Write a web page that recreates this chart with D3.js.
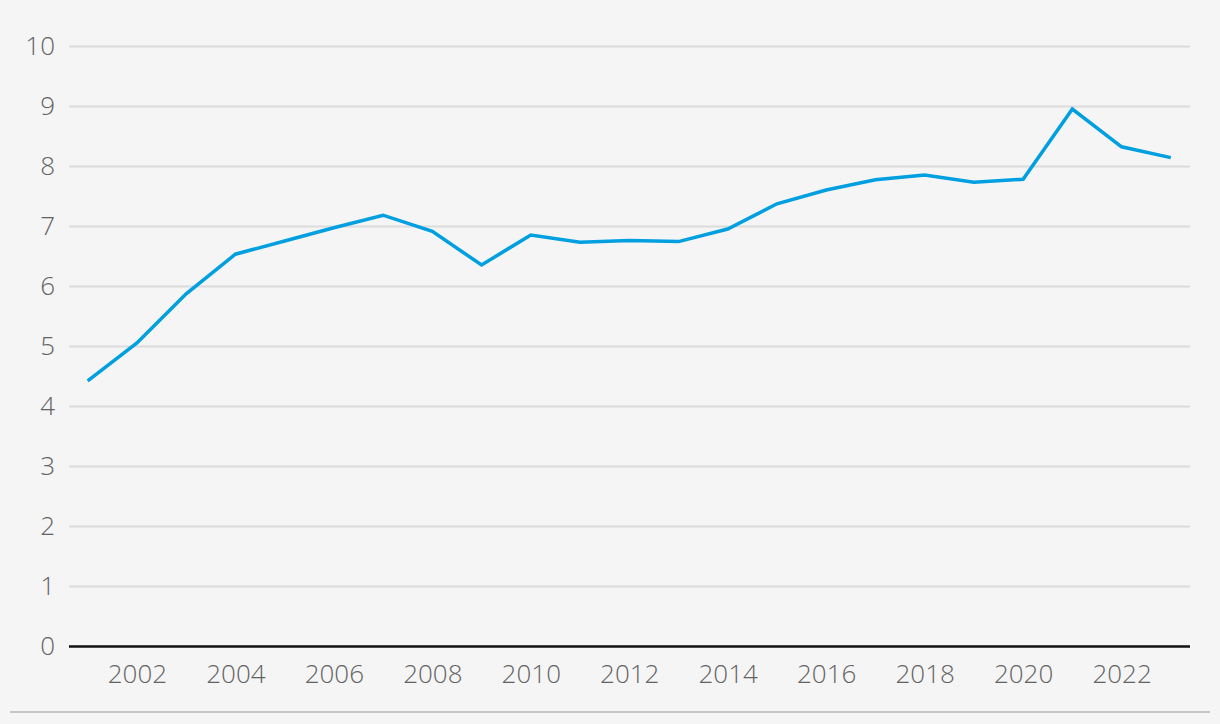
<!DOCTYPE html>
<html>
<head>
<meta charset="utf-8">
<script src="https://cdn.jsdelivr.net/npm/d3@7"></script>
<style>
  html, body { margin: 0; padding: 0; background: #f5f5f5; }
  svg { display: block; }
  .tick text { font-family: "Open Sans", sans-serif; font-weight: 300; fill: #636363; }
</style>
</head>
<body>
<div id="chart"></div>
<script>
// values
const years = d3.range(2001, 2024);
const values = [4.42, 5.05, 5.87, 6.53, 6.75, 6.97, 7.18, 6.91, 6.35, 6.85, 6.73, 6.76, 6.74, 6.95, 7.37, 7.6, 7.77, 7.85, 7.73, 7.78, 8.95, 8.32, 8.14];
const yTicks = [0, 1, 2, 3, 4, 5, 6, 7, 8, 9, 10];
const xTicks = [2002, 2004, 2006, 2008, 2010, 2012, 2014, 2016, 2018, 2020, 2022];

const data = years.map((y, i) => ({ year: y, value: values[i] }));

const width = 1220, height = 724;
const margin = { top: 46, right: 30, bottom: 78, left: 69 };

const svg = d3.select("#chart")
  .append("svg")
  .attr("width", width)
  .attr("height", height);

// scales
const xScale = d3.scaleLinear()
  .domain([2000.62, 2023.39])
  .range([margin.left, width - margin.right]);

const yScale = d3.scaleLinear()
  .domain([0, 10])
  .range([height - margin.bottom, margin.top]);

// gridlines + y labels
const yAxis = svg.append("g")
  .attr("transform", `translate(${margin.left},0)`)
  .call(d3.axisLeft(yScale)
    .tickValues(yTicks)
    .tickSize(-(width - margin.left - margin.right))
    .tickPadding(14)
    .tickFormat(d3.format("d")));
yAxis.select(".domain").remove();
yAxis.selectAll(".tick line")
  .attr("stroke", "#dcdcdc")
  .attr("stroke-width", 2);
yAxis.selectAll(".tick text")
  .attr("font-size", "26px");
// zero line is black
yAxis.selectAll(".tick")
  .filter(d => d === 0)
  .select("line")
  .attr("stroke", "#111")
  .attr("stroke-width", 2.5);

// x labels
const xAxis = svg.append("g")
  .attr("transform", `translate(0,${height - margin.bottom})`)
  .call(d3.axisBottom(xScale)
    .tickValues(xTicks)
    .tickSize(0)
    .tickPadding(19)
    .tickFormat(d3.format("d")));
xAxis.select(".domain").remove();
xAxis.selectAll(".tick text")
  .attr("font-size", "26px");

// bottom rule
svg.append("line")
  .attr("x1", 10)
  .attr("x2", 1210)
  .attr("y1", 712)
  .attr("y2", 712)
  .attr("stroke", "#c6c6c6")
  .attr("stroke-width", 2);

// the line
const line = d3.line()
  .x(d => xScale(d.year))
  .y(d => yScale(d.value));

svg.append("path")
  .datum(data)
  .attr("fill", "none")
  .attr("stroke", "#009fe0")
  .attr("stroke-width", 3.5)
  .attr("stroke-linejoin", "miter")
  .attr("d", line);
</script>
</body>
</html>
